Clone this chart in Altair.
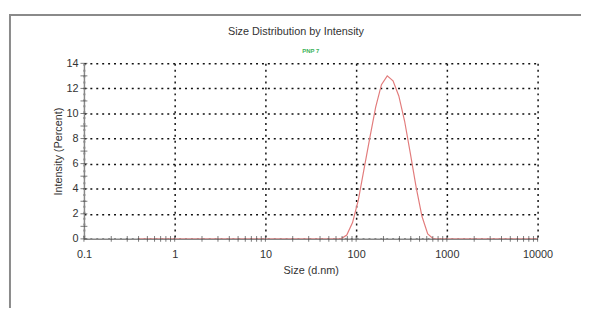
import altair as alt
import pandas as pd

# Data
sizes = [0.4, 0.4632, 0.5365, 0.6213, 0.7195, 0.8332, 0.9649, 1.117, 1.294, 1.499,
         1.736, 2.01, 2.328, 2.696, 3.122, 3.615, 4.187, 4.849, 5.615, 6.503,
         7.531, 8.721, 10.1, 11.7, 13.54, 15.69, 18.17, 21.04, 24.36, 28.21,
         32.67, 37.84, 43.82, 50.75, 58.77, 68.06, 78.82, 91.28, 105.7, 122.4,
         141.8, 164.2, 190.1, 220.2, 255.0, 295.3, 342.0, 396.1, 458.7, 531.2,
         615.1, 712.4, 825.0, 955.4, 1106, 1281, 1484, 1718, 1990, 2305,
         2669, 3091, 3580, 4145, 4801, 5560, 6439, 7456, 8635, 10000]
intensity = [0] * 36 + [0.3, 1.3, 3.1, 5.6, 8.1, 10.5, 12.3, 13.0, 12.6, 11.4,
                        9.4, 6.8, 4.1, 1.8, 0.4] + [0] * 19

x_decades = [0.1, 1, 10, 100, 1000, 10000]
y_major = [0, 2, 4, 6, 8, 10, 12, 14]
x_minor = [m * d for d in [0.1, 1, 10, 100, 1000] for m in range(1, 10)] + [10000]
y_minor = list(range(0, 15))

title_text = "Size Distribution by Intensity"
series_name = "PNP 7"
x_title = "Size (d.nm)"
y_title = "Intensity (Percent)"

df = pd.DataFrame({"size": sizes[:len(intensity)], "intensity": intensity})
xt = pd.DataFrame({"size": x_minor, "intensity": [0] * len(x_minor)})
yt = pd.DataFrame({"size": [0.1] * len(y_minor), "intensity": y_minor})

xscale = alt.Scale(type="log", domain=[0.1, 10000])
yscale = alt.Scale(domain=[0, 14], nice=False)

FONT = "Liberation Sans"

xaxis = alt.Axis(values=x_decades, format="~g", grid=True, gridDash=[2, 4],
                 gridColor="#111", gridWidth=1.5, gridOpacity=1,
                 ticks=False, labelPadding=10, labelFontSize=11, labelColor="#333",
                 labelFont=FONT, domainColor="#888", domainWidth=1.5,
                 title=x_title, titleFontWeight="normal", titleFontSize=11,
                 titleColor="#333", titleFont=FONT, titlePadding=5, labelFlush=False,
                 labelOverlap=False)
yaxis = alt.Axis(values=y_major, grid=True, gridDash=[2, 4],
                 gridColor="#111", gridWidth=1.5, gridOpacity=1,
                 ticks=False, labelPadding=6, labelFontSize=11, labelColor="#333",
                 labelFont=FONT, domainColor="#888", domainWidth=1.5,
                 title=y_title, titleFontWeight="normal", titleFontSize=11,
                 titleColor="#333", titleFont=FONT, titlePadding=3,
                 labelOverlap=False, labelFlush=False)

X = alt.X("size:Q", scale=xscale, axis=xaxis)
Y = alt.Y("intensity:Q", scale=yscale, axis=yaxis)

line = alt.Chart(df).mark_line(color="#e27c7c", strokeWidth=1.2, clip=True).encode(x=X, y=Y)

xticks = alt.Chart(xt).mark_tick(orient="vertical", size=6, thickness=1, color="#444").encode(x=X, y=Y)
yticks = alt.Chart(yt).mark_tick(orient="horizontal", size=7, thickness=1, color="#444").encode(x=X, y=Y)

frame = alt.Chart(pd.DataFrame({"a": [0]})).mark_rect(
    fill=None, stroke="#8a8a8a", strokeWidth=2, clip=False).encode(
    x=alt.value(-75), x2=alt.value(700), y=alt.value(-49), y2=alt.value(400))

title = alt.Chart(pd.DataFrame({"t": [title_text]})).mark_text(
    color="#333", fontSize=11, font=FONT).encode(
    text="t:N", x=alt.value(215), y=alt.value(-32))

sub = alt.Chart(pd.DataFrame({"t": [series_name]})).mark_text(
    color="#3cb35a", fontSize=6, font=FONT, fontWeight="bold").encode(
    text="t:N", x=alt.value(230), y=alt.value(-12))

chart = alt.layer(frame, line, xticks, yticks, title, sub).properties(
    width=460, height=178,
    autosize=alt.AutoSizeParams(type="none"),
    padding={"left": 77, "top": 54, "right": 44, "bottom": 68},
).configure_view(stroke=None)

chart.save("out.html", embed_options={"renderer": "svg", "actions": False})
